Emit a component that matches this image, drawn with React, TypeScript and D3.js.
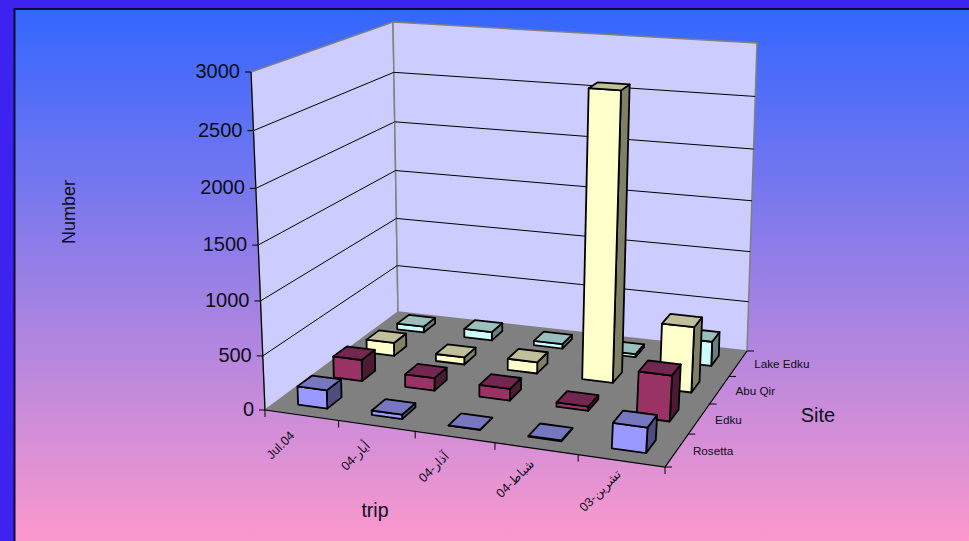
import React from "react";
import * as d3 from "d3";

type Pt = [number, number];

const trips = ["Jul.04", "أيار-04", "آذار-04", "شباط-04", "تشرين-03"];
const sites = ["Rosetta", "Edku", "Abu Qir", "Lake Edku"];
const yTicks = [0, 500, 1000, 1500, 2000, 2500, 3000];

const rosetta = [170, 40, 2, 8, 225];
const edku = [205, 120, 110, 40, 420];
const abuQir = [130, 70, 110, 2720, 620];
const lakeEdku = [60, 85, 45, 30, 240];
const seriesValues = [rosetta, edku, abuQir, lakeEdku];

const frontColors = ["#9999FF", "#993366", "#FFFFCC", "#CCFFFF"];
const topColors = ["#7777BF", "#732650", "#BFBF99", "#99BFBF"];
const sideColors = ["#4D4D80", "#4D1A33", "#808066", "#668080"];

// Chart box in screen space, corners ordered front-left, front-right, back-right, back-left.
const floorQuad: Pt[] = [[265, 410], [665, 467], [747, 351], [398, 312]];
const ceilingQuad: Pt[] = [[251, 72], [688, 104], [757, 43], [393, 22]];
const heightBend = 0.05;

// Perspective map from the unit square onto a screen quad.
function quadMap(quad: Pt[]) {
  const [[x0, y0], [x1, y1], [x2, y2], [x3, y3]] = quad;
  const dx1 = x1 - x2, dx2 = x3 - x2, sx = x0 - x1 + x2 - x3;
  const dy1 = y1 - y2, dy2 = y3 - y2, sy = y0 - y1 + y2 - y3;
  const den = dx1 * dy2 - dx2 * dy1;
  const g = (sx * dy2 - dx2 * sy) / den;
  const h = (dx1 * sy - sx * dy1) / den;
  const a = x1 - x0 + g * x1, b = x3 - x0 + h * x3;
  const d = y1 - y0 + g * y1, e = y3 - y0 + h * y3;
  return (t: number, s: number): Pt => {
    const w = g * t + h * s + 1;
    return [(a * t + b * s + x0) / w, (d * t + e * s + y0) / w];
  };
}
const floorAt = quadMap(floorQuad);
const ceilingAt = quadMap(ceilingQuad);

const tScale = d3.scaleBand<number>().domain(d3.range(trips.length)).range([0, 1]).paddingInner(0.6).paddingOuter(0.3);
const sScale = d3.scaleBand<number>().domain(d3.range(sites.length)).range([0, 1]).paddingInner(0.6).paddingOuter(0.3);
const hScale = d3.scaleLinear().domain([0, 3000]).range([0, 1]);

function project(t: number, s: number, v: number): Pt {
  const base = floorAt(t, s), top = ceilingAt(t, s);
  const k = hScale(v);
  const f = k / (1 + heightBend * (1 - k));
  return [base[0] + (top[0] - base[0]) * f, base[1] + (top[1] - base[1]) * f];
}

const closedLine = d3.line().curve(d3.curveLinearClosed);
const poly = (pts: Pt[]) => closedLine(pts) as string;
const segment = (pts: Pt[]) => d3.line()(pts) as string;

function Bar({ ti, si }: { ti: number; si: number }) {
  const v = seriesValues[si][ti];
  const t0 = tScale(ti) as number, t1 = t0 + tScale.bandwidth();
  const s0 = sScale(si) as number, s1 = s0 + sScale.bandwidth();
  const stroke = { stroke: "#000", strokeWidth: 1.8, strokeLinejoin: "round" as const };
  return (
    <g>
      <path d={poly([project(t1, s0, 0), project(t1, s1, 0), project(t1, s1, v), project(t1, s0, v)])} fill={sideColors[si]} {...stroke} />
      <path d={poly([project(t0, s0, 0), project(t1, s0, 0), project(t1, s0, v), project(t0, s0, v)])} fill={frontColors[si]} {...stroke} />
      <path d={poly([project(t0, s0, v), project(t1, s0, v), project(t1, s1, v), project(t0, s1, v)])} fill={topColors[si]} {...stroke} />
    </g>
  );
}

export default function App() {
  const sans = "'Liberation Sans', Arial, 'DejaVu Sans', sans-serif";
  const textColor = "#0d0d1a";
  const tEdges = d3.range(trips.length + 1).map((i) => i / trips.length);
  const sEdges = d3.range(sites.length + 1).map((i) => i / sites.length);
  const drawOrder = d3.range(sites.length).reverse().flatMap((si) => trips.map((_, ti) => ({ si, ti })));

  return (
    <svg width={969} height={541} style={{ position: "absolute", left: 0, top: 0, display: "block" }}>
      <defs>
        <linearGradient id="panelFill" x1="0" y1="0" x2="0" y2="1">
          <stop offset="0" stopColor="#3366FF" />
          <stop offset="1" stopColor="#FF99CC" />
        </linearGradient>
      </defs>
      <rect width={969} height={541} fill="#3D22F0" />
      <rect x={14.5} y={9} width={960} height={540} fill="url(#panelFill)" stroke="#0c0c30" strokeWidth={2} />

      {/* walls and floor */}
      <path d={poly([project(0, 0, 0), project(0, 1, 0), project(0, 1, 3000), project(0, 0, 3000)])} fill="#CCCCFF" stroke="#808080" strokeWidth={1.5} />
      <path d={poly([project(0, 1, 0), project(1, 1, 0), project(1, 1, 3000), project(0, 1, 3000)])} fill="#CCCCFF" stroke="#808080" strokeWidth={1.5} />
      <path d={poly([project(0, 0, 0), project(1, 0, 0), project(1, 1, 0), project(0, 1, 0)])} fill="#808080" />

      {/* gridlines */}
      {yTicks.filter((v) => v > 0 && v < 3000).map((v) => (
        <path key={v} d={segment([project(0, 0, v), project(0, 1, v), project(1, 1, v)])} fill="none" stroke="#000" strokeWidth={1} />
      ))}

      {/* axis lines */}
      <path d={segment([project(0, 0, 0), project(0, 0, 3000)])} stroke="#000" strokeWidth={1.2} fill="none" />
      <path d={segment([project(0, 0, 0), project(1, 0, 0), project(1, 1, 0)])} stroke="#000" strokeWidth={1.2} fill="none" />

      {/* value axis */}
      {yTicks.map((v) => {
        const [x, y] = project(0, 0, v);
        return (
          <g key={v}>
            <line x1={x - 6} x2={x} y1={y} y2={y} stroke="#000" />
            <text x={x - 11} y={y + 6} textAnchor="end" fontFamily={sans} fontSize={20} fill={textColor}>{v}</text>
          </g>
        );
      })}

      {/* trip axis */}
      {tEdges.map((t, i) => {
        const [x, y] = project(t, 0, 0);
        return <line key={i} x1={x} x2={x} y1={y} y2={y + 7} stroke="#000" />;
      })}
      {trips.map((label, i) => {
        const mid = (tScale(i) as number) + tScale.bandwidth() / 2;
        const [x, y] = project(mid, 0, 0);
        return (
          <text key={label} transform={`translate(${x - 18},${y + 33}) rotate(-45)`} textAnchor="middle" fontFamily={sans} fontSize={12.5} fill={textColor}>{label}</text>
        );
      })}

      {/* site axis */}
      {sEdges.map((s, i) => {
        const [x, y] = project(1, s, 0);
        return <line key={i} x1={x} x2={x + 7} y1={y} y2={y} stroke="#000" />;
      })}
      {sites.map((label, i) => {
        const mid = (sScale(i) as number) + sScale.bandwidth() / 2;
        const [x, y] = project(1, mid, 0);
        return (
          <text key={label} x={x + 16} y={y + 5} fontFamily={sans} fontSize={11.7} fill={textColor}>{label}</text>
        );
      })}

      {/* bars, back row first */}
      {drawOrder.map(({ si, ti }) => <Bar key={`${si}-${ti}`} si={si} ti={ti} />)}

      {/* axis titles */}
      <text transform="translate(75,212) rotate(-90)" textAnchor="middle" fontFamily={sans} fontSize={18} fill={textColor}>Number</text>
      <text x={375} y={517} textAnchor="middle" fontFamily={sans} fontSize={19.5} fill={textColor}>trip</text>
      <text x={818} y={422} textAnchor="middle" fontFamily={sans} fontSize={20} fill={textColor}>Site</text>
    </svg>
  );
}
